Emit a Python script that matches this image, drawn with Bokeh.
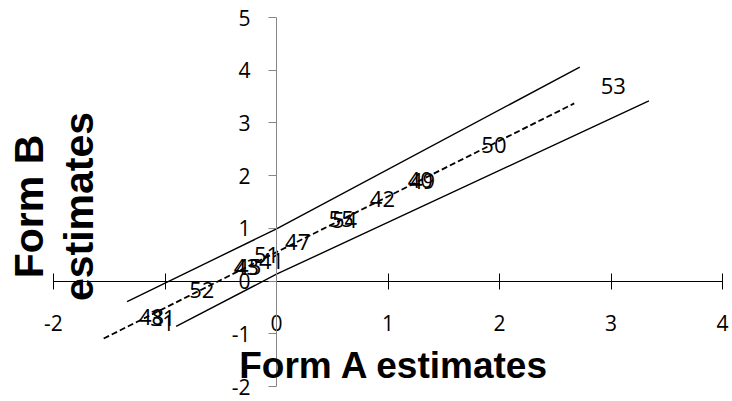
from bokeh.plotting import figure
from bokeh.models import Range1d, FixedTicker, Label
from bokeh.core.properties import value
from bokeh.embed import file_html
from bokeh.resources import INLINE

# ---- data ----
x_ticks = [-2, -1, 0, 1, 2, 3, 4]
y_ticks = [-2, -1, 0, 1, 2, 3, 4, 5]

item_labels = ["48", "31", "52", "43", "45", "51", "41", "47", "55", "54", "42", "40", "49", "50", "53"]
form_a = [-1.12, -1.02, -0.67, -0.27, -0.25, -0.09, -0.045, 0.19, 0.58, 0.61, 0.95, 1.29, 1.31, 1.95, 3.02]
form_b = [-0.68, -0.71, -0.16, 0.27, 0.26, 0.50, 0.39, 0.75, 1.17, 1.16, 1.56, 1.91, 1.90, 2.59, 3.71]

trend_x = [-1.55, 2.67]
trend_y = [-1.09, 3.37]
upper_x = [-1.34, 0.0, 2.72]
upper_y = [-0.39, 0.99, 4.06]
lower_x = [-0.90, 0.0, 3.34]
lower_y = [-0.86, 0.13, 3.42]

x_title = "Form A estimates"
y_title_lines = ["Form B", "estimates"]

LABEL_FONT = "Open Sans"
TITLE_FONT = "Liberation Sans"

# ---- layout: the frame covers the whole canvas; axes cross at the origin ----
W, H = 732, 401
X0, X1, PX_X0, PX_X1 = -2, 4, 53, 722     # pixel positions of x = -2 and x = 4
Y0, Y1, PX_Y0, PX_Y1 = -2, 5, 386, 17     # pixel positions of y = -2 and y = 5
ux = (PX_X1 - PX_X0) / (X1 - X0)
uy = (PX_Y0 - PX_Y1) / (Y1 - Y0)
x_range = Range1d(X0 - PX_X0 / ux, X1 + (W - PX_X1) / ux)
y_range = Range1d(Y0 - (H - PX_Y0) / uy, Y1 + PX_Y1 / uy)

p = figure(width=W, height=H, output_backend="svg", toolbar_location=None,
           x_range=x_range, y_range=y_range,
           min_border_left=0, min_border_right=0, min_border_top=0, min_border_bottom=0)
p.outline_line_color = None
p.grid.visible = False
p.background_fill_color = "white"
p.border_fill_color = "white"

# x axis crossing at y = 0
xa = p.xaxis[0]
xa.fixed_location = 0
xa.bounds = (X0, X1)
xa.ticker = FixedTicker(ticks=x_ticks)
xa.major_label_overrides = {t: str(t) for t in x_ticks}
xa.axis_line_color = "black"
xa.major_tick_line_color = "black"
xa.major_tick_in = 8
xa.major_tick_out = 8
xa.minor_tick_line_color = None
xa.major_label_standoff = 26
xa.major_label_text_font = LABEL_FONT
xa.major_label_text_font_size = "21px"
xa.major_label_text_color = "black"

# y axis crossing at x = 0
ya = p.yaxis[0]
ya.fixed_location = 0
ya.bounds = (Y0, Y1)
ya.ticker = FixedTicker(ticks=y_ticks)
ya.major_label_overrides = {t: str(t) for t in y_ticks}
ya.axis_line_color = "#868686"
ya.major_tick_line_color = "#868686"
ya.major_tick_in = 0
ya.major_tick_out = 8
ya.minor_tick_line_color = None
ya.major_label_standoff = 18
ya.major_label_text_font = LABEL_FONT
ya.major_label_text_font_size = "21px"
ya.major_label_text_color = "black"

# control lines and trend line
p.line(upper_x, upper_y, line_color="black", line_width=1.4)
p.line(lower_x, lower_y, line_color="black", line_width=1.4)
p.line(trend_x, trend_y, line_color="black", line_width=1.8, line_dash="6 3")

# item labels
p.text(x=form_a, y=form_b, text=item_labels, text_font=value(LABEL_FONT),
       text_font_size="22px", text_align="center", text_baseline="middle",
       text_color="black")

# x title
p.add_layout(Label(x=394, y=H - 365, x_units="screen", y_units="screen",
                   text=x_title, text_align="center", text_baseline="middle",
                   text_font=TITLE_FONT, text_font_style="bold",
                   text_font_size="37px", text_color="black"))

# y title (two lines, rotated)
for i, line in enumerate(y_title_lines):
    p.add_layout(Label(x=28 + 50 * i, y=H - 206, x_units="screen", y_units="screen",
                       text=line, angle=90, angle_units="deg",
                       text_align="center", text_baseline="alphabetic",
                       text_font=TITLE_FONT, text_font_style="bold",
                       text_font_size="41px", text_color="black"))

open("out.html", "w").write(file_html(p, INLINE))
